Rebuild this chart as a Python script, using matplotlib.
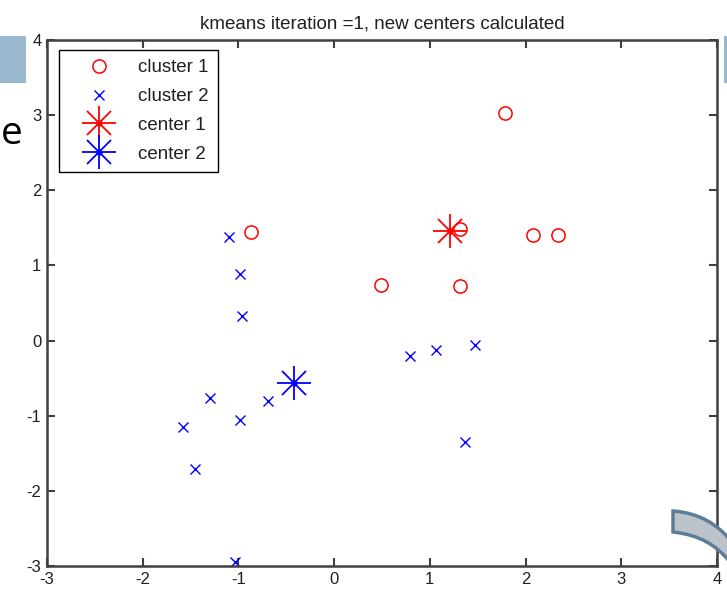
import matplotlib
matplotlib.use("Agg")
import matplotlib.pyplot as plt
from matplotlib.path import Path
from matplotlib.patches import PathPatch, Rectangle
from matplotlib.lines import Line2D
from matplotlib.legend_handler import HandlerTuple

plt.rcParams['font.family'] = ['Liberation Sans', 'DejaVu Sans']
plt.rcParams['axes.unicode_minus'] = False

cluster1_x = [-0.87, 1.79, 1.32, 2.08, 2.34, 0.49, 1.31]
cluster1_y = [1.44, 3.03, 1.49, 1.41, 1.41, 0.74, 0.72]
cluster2_x = [-1.10, -0.98, -0.96, -1.30, -1.58, -0.98, -0.69, -1.45, -1.04, 0.79, 1.06, 1.47, 1.37]
cluster2_y = [1.38, 0.88, 0.33, -0.76, -1.15, -1.06, -0.80, -1.71, -2.95, -0.20, -0.12, -0.06, -1.35]
center1 = (1.21, 1.46)
center2 = (-0.42, -0.57)
xticks = [-3, -2, -1, 0, 1, 2, 3, 4]
yticks = [-3, -2, -1, 0, 1, 2, 3, 4]
title = "kmeans iteration =1, new centers calculated"
labels = ["cluster 1", "cluster 2", "center 1", "center 2"]

W, H = 727, 595
fig = plt.figure(figsize=(W / 100, H / 100), dpi=100)
ax = fig.add_axes([47 / W, 1 - 566 / H, 670 / W, 526 / H])

def asterisk(x, y, color):
    a = Line2D(x, y, ls='none', marker='+', ms=24, color=color, mew=1.3)
    b = Line2D(x, y, ls='none', marker='x', ms=17, color=color, mew=1.3)
    c = Line2D(x, y, ls='none', marker='o', ms=3.5, color=color)
    return a, b, c

ax.plot(cluster1_x, cluster1_y, ls='none', marker='o', ms=9.5, mfc='none', mec='red', mew=1.1)
ax.plot(cluster2_x, cluster2_y, ls='none', marker='x', ms=6.5, color='blue', mew=1.0)
for art in asterisk([center1[0]], [center1[1]], 'red'):
    ax.add_line(art)
for art in asterisk([center2[0]], [center2[1]], 'blue'):
    ax.add_line(art)

ax.set_xlim(-3, 4)
ax.set_ylim(-3, 4)
ax.set_xticks(xticks)
ax.set_yticks(yticks)
ax.tick_params(direction='in', top=True, right=True, length=6, width=1.5, color='#404040',
               labelsize=12, pad=4, labelcolor='#202020')
for s in ax.spines.values():
    s.set_linewidth(1.8)
    s.set_color('#404040')
ax.set_title(title, fontsize=13.5, pad=8, color='#202020')

h = [Line2D([], [], ls='none', marker='o', ms=9.5, mfc='none', mec='red', mew=1.1),
     Line2D([], [], ls='none', marker='x', ms=6.5, color='blue', mew=1.0),
     asterisk([], [], 'red'),
     asterisk([], [], 'blue')]
leg = ax.legend(h, labels, loc='upper left', bbox_to_anchor=(0.018, 0.981), fontsize=13.5,
                frameon=True, fancybox=False, edgecolor='black', framealpha=1,
                handlelength=3.3, handletextpad=0.4, labelspacing=0.62, borderpad=0.5,
                borderaxespad=0, handler_map={tuple: HandlerTuple(ndivide=1, pad=0)})
leg.get_frame().set_linewidth(1.0)
for t in leg.get_texts():
    t.set_color('#202020')

# slide artifacts around the screenshot
fig.patches.append(Rectangle((0, 1 - 83 / H), 26 / W, 47 / H, transform=fig.transFigure,
                             facecolor='#9ab8d0', edgecolor='none', zorder=0))
fig.patches.append(Rectangle((724 / W, 1 - 83 / H), 3 / W, 47 / H, transform=fig.transFigure,
                             facecolor='#9ab8d0', edgecolor='none', zorder=0))
fig.text(0.5 / W, 1 - 134 / H, "e", fontsize=28, family=['Open Sans', 'Liberation Sans', 'DejaVu Sans'],
         va='center', ha='left', color='black')

def fp(x, y):
    return (x / W, 1 - y / H)

verts = [fp(673, 511), fp(700, 513), fp(718, 525), fp(730, 540),
         fp(730, 562), fp(716, 545), fp(700, 535), fp(673, 532), fp(673, 511)]
codes = [Path.MOVETO, Path.CURVE4, Path.CURVE4, Path.CURVE4,
         Path.LINETO, Path.CURVE4, Path.CURVE4, Path.CURVE4, Path.CLOSEPOLY]
fig.patches.append(PathPatch(Path(verts, codes), transform=fig.transFigure,
                             facecolor='#bcc3ca', edgecolor='#5d7d96', linewidth=2.5, zorder=5))

fig.savefig("out.png", dpi=100)
